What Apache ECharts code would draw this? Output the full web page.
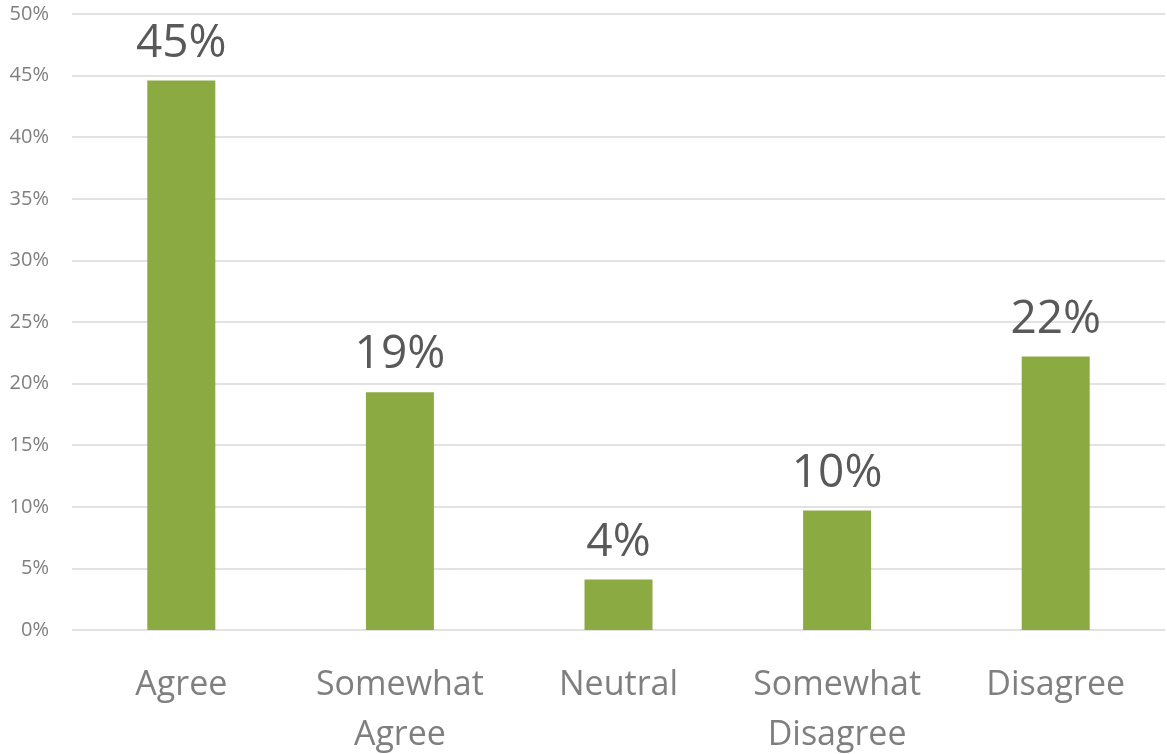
<!DOCTYPE html>
<html><head><meta charset="utf-8">
<script src="https://cdn.jsdelivr.net/npm/echarts@6/dist/echarts.min.js"></script>
<style>html,body{margin:0;padding:0;background:#fff}#c{width:1167px;height:754px}</style>
</head><body><div id="c"></div>
<script>
const categories = ['Agree', 'Somewhat\nAgree', 'Neutral', 'Somewhat\nDisagree', 'Disagree'];
const values = [44.6, 19.3, 4.1, 9.7, 22.2];
const yTicks = [0, 5, 10, 15, 20, 25, 30, 35, 40, 45, 50];

const chart = echarts.init(document.getElementById('c'));
chart.setOption({
  animation: false,
  grid: { left: 72, right: 2, top: 14, bottom: 124, containLabel: false, outerBoundsMode: 'none' },
  xAxis: {
    type: 'category', data: categories,
    axisLine: { show: false }, axisTick: { show: false },
    axisLabel: { color: '#7f7f7f', fontSize: 34, fontFamily: 'Open Sans', margin: 30, lineHeight: 50, interval: 0 }
  },
  yAxis: {
    type: 'value', min: yTicks[0], max: yTicks[yTicks.length - 1], interval: 5,
    axisLine: { show: false }, axisTick: { show: false },
    splitLine: { lineStyle: { color: '#d9d9d9', width: 1.5 } },
    axisLabel: { color: '#7f7f7f', fontSize: 20, fontFamily: 'Open Sans', margin: 23, formatter: v => v + '%' }
  },
  series: [{
    type: 'bar', data: values, barWidth: 68,
    itemStyle: { color: '#8baa42' },
    label: { show: true, position: 'top', distance: 14, color: '#595959', fontSize: 46, fontFamily: 'Open Sans',
      formatter: p => Math.round(p.value) + '%' }
  }]
});
</script></body></html>
